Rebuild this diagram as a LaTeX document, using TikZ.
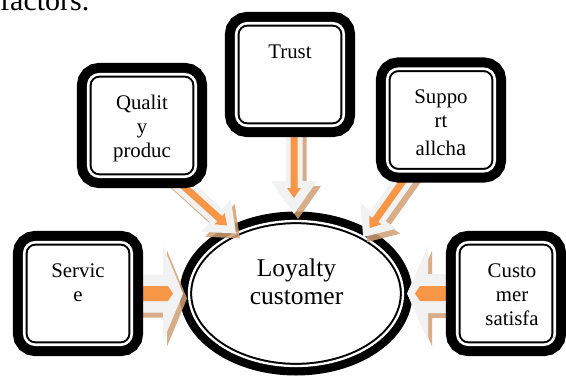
\documentclass[tikz,border=0pt]{standalone}
\usepackage{fontspec}
\setmainfont{Liberation Serif}
\usetikzlibrary{shapes.geometric, calc}
\definecolor{arrowface}{RGB}{242, 242, 242}
\definecolor{arrowshade}{RGB}{208, 160, 116}
\definecolor{arrowcore}{RGB}{247, 150, 70}
\pgfdeclarelayer{front}
\pgfsetlayers{main,front}

% block arrow: style, tail, tip, half shaft, half head, head length
\newcommand{\blockarrow}[6]{%
  \coordinate (ba-base) at ($(#3)!#6!(#2)$);
  \fill[#1] ($(#2)!#4!90:(#3)$) -- ($(ba-base)!#4!-90:(#2)$) -- ($(ba-base)!#5!-90:(#2)$) -- (#3)
    -- ($(ba-base)!#5!90:(#2)$) -- ($(ba-base)!#4!90:(#2)$) -- ($(#2)!#4!-90:(#3)$) -- cycle;
}

\tikzset{
  factor/.style={rectangle, rounded corners=11pt, minimum width=107.5pt, minimum height=102.5pt,
    outer sep=0pt, fill=white, draw=black, line width=2pt, double=white, double distance=2.6pt,
    preaction={draw=black, line width=22.6pt}},
  hub/.style={ellipse, minimum width=214pt, minimum height=145pt, outer sep=0pt, fill=white,
    draw=black, line width=2pt, double=white, double distance=2.3pt,
    preaction={draw=black, line width=19pt}},
  factortext/.style={font=\fontsize{20.8}{24}\selectfont, align=center, anchor=base, inner sep=0pt},
}

\begin{document}
\begin{tikzpicture}[x=1pt, y=-1pt]
  \useasboundingbox (0,0) rectangle (566,376);

  % caption line, cut at the top
  \node[font=\fontsize{30}{34}\selectfont, anchor=base west, inner sep=0pt] (caption) at (0,10) {factors.};

  % centre
  \node[hub] (loy) at (296,293.5) {};
  \node[font=\fontsize{25.5}{28}\selectfont, align=center, anchor=base, inner sep=0pt] (loy-txt) at (296.5,304) {Loyalty\\customer};

  % the five factors (base = last line)
  \begin{pgfonlayer}{front}
    \node[factor] (qual) at (142,125.5) {};
    \node[factor] (trust) at (290,74.5) {};
    \node[factor] (sup) at (441,120) {};
    \node[factor] (serv) at (78,293.5) {};
    \node[factor, minimum width=97.5pt] (cust) at (506,293.5) {};

    \node[factortext] (qual-txt) at ([yshift=-83pt]qual.north) {Qualit\\y\\produc};
    \node[factortext] (trust-txt) at ([yshift=-35pt]trust.north) {Trust};
    \node[factortext] (sup-txt) at ([yshift=-86.25pt]sup.north) {Suppo\\rt\\[4pt]allch{\fontsize{23}{24}\selectfont a}};
    \node[factortext] (serv-txt) at ([yshift=-58.75pt]serv.north) {Servic\\e};
    \node[factortext] (cust-txt) at ([xshift=6pt, yshift=-82.75pt]cust.north) {Custo\\mer\\satisfa};
  \end{pgfonlayer}

  % arrow ends
  \coordinate (trust-tail) at ([xshift=4pt]trust.south);
  \coordinate (trust-tip) at ([xshift=-2pt, yshift=7pt]loy.north);
  \coordinate (qual-tail) at ([xshift=-27.75pt, yshift=4.75pt]qual.south east);
  \coordinate (qual-tip) at (loy.135);
  \coordinate (sup-tail) at ([xshift=-26.8pt, yshift=6pt]sup.south);
  \coordinate (sup-tip) at (loy.40);
  \coordinate (serv-tail) at (serv.east);
  \coordinate (serv-tip) at ([xshift=-6pt]loy.west);
  \coordinate (cust-tail) at (cust.west);
  \coordinate (cust-tip) at ([xshift=4pt]loy.east);

  % arrows: shadow, face, orange core
  \foreach \src/\ashaft/\ahead/\alen/\oin/\oshaft/\ohead/\olen in {
      trust/8.5pt/23pt/33pt/16pt/3.5pt/7pt/10pt,
      qual/9pt/22pt/27pt/12pt/3.5pt/7.5pt/10pt,
      sup/9pt/22pt/26pt/11pt/3.5pt/7.5pt/10pt,
      serv/19pt/48pt/20pt/10pt/7.5pt/7.5pt/5pt,
      cust/19.5pt/47.5pt/21pt/8pt/7.5pt/7.5pt/5pt}
  {
    \blockarrow{arrowshade, opacity=.85, transform canvas={xshift=4pt, yshift=-5pt}}{\src-tail}{\src-tip}{\ashaft}{\ahead}{\alen}
    \blockarrow{arrowface}{\src-tail}{\src-tip}{\ashaft}{\ahead}{\alen}
    \coordinate (core-tip) at ($(\src-tip)!\oin!(\src-tail)$);
    \blockarrow{arrowcore}{\src-tail}{core-tip}{\oshaft}{\ohead}{\olen}
  }
\end{tikzpicture}
\end{document}
